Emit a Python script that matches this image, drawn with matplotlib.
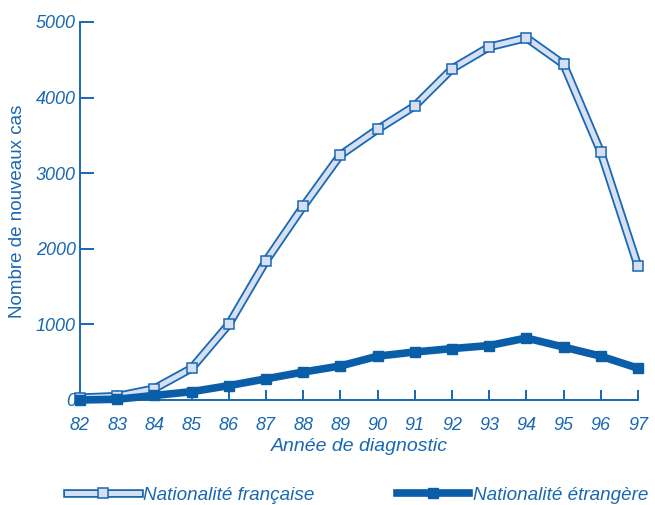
import matplotlib
matplotlib.use("Agg")
import matplotlib.pyplot as plt
import matplotlib.patheffects as pe

years = [82, 83, 84, 85, 86, 87, 88, 89, 90, 91, 92, 93, 94, 95, 96, 97]
francaise = [30, 50, 150, 420, 1000, 1840, 2560, 3240, 3580, 3890, 4380, 4670, 4790, 4440, 3280, 1770]
etrangere = [0, 10, 60, 110, 190, 280, 370, 450, 580, 635, 680, 720, 820, 700, 580, 420]
yticks = [0, 1000, 2000, 3000, 4000, 5000]

BLUE = "#1a68b2"
DARK = "#0a5ea8"
LIGHT = "#d6e0f2"

plt.rcParams['font.family'] = ['Liberation Sans', 'DejaVu Sans']

fig = plt.figure(figsize=(6.55, 5.05), dpi=100)
ax = fig.add_axes([80/655, 1-400/505, (638-80)/655, (400-22)/505])

l1, = ax.plot(years, francaise, color=LIGHT, lw=3.6, solid_joinstyle='miter',
              path_effects=[pe.Stroke(linewidth=6.2, foreground=BLUE), pe.Normal()],
              clip_on=False, zorder=3)
m1, = ax.plot(years, francaise, ls='none', marker='s', ms=7, mfc=LIGHT, mec=BLUE,
              mew=1.1, clip_on=False, zorder=4)
l2, = ax.plot(years, etrangere, color=DARK, lw=5.5, clip_on=False, zorder=5)
m2, = ax.plot(years, etrangere, ls='none', marker='s', ms=7, mfc=DARK, mec=DARK,
              clip_on=False, zorder=6)

ax.set_xlim(82, 97)
ax.set_ylim(0, 5000)
ax.set_xticks(years)
ax.set_xticklabels([str(y) for y in years])
ax.set_yticks(yticks)
ax.set_yticklabels([str(v) for v in yticks])

for s in ['top', 'right']:
    ax.spines[s].set_visible(False)
for s in ['left', 'bottom']:
    ax.spines[s].set_color(BLUE)
    ax.spines[s].set_linewidth(1.4)

ax.tick_params(axis='y', direction='in', length=10, width=1.4, color=BLUE,
               labelcolor=BLUE, labelsize=13, pad=3)
ax.tick_params(axis='x', direction='in', length=7, width=1.4, color=BLUE,
               labelcolor=BLUE, labelsize=13, pad=12)
for lab in ax.get_xticklabels() + ax.get_yticklabels():
    lab.set_style('italic')

ax.set_xlabel("Année de diagnostic", color=BLUE, fontsize=14, style='italic', labelpad=3)
ax.set_ylabel("Nombre de nouveaux cas", color=BLUE, fontsize=13.5, labelpad=7)

leg1 = fig.legend([(l1, m1)], ["Nationalité française"], loc='center left',
                  bbox_to_anchor=(67/655, 1-495/505), frameon=False, handlelength=3.8,
                  borderpad=0, borderaxespad=0, handletextpad=0.2,
                  prop={'style': 'italic', 'size': 13.6})
for t in leg1.get_texts():
    t.set_color(BLUE)
leg2 = fig.legend([(l2, m2)], ["Nationalité étrangère"], loc='center left',
                  bbox_to_anchor=(397/655, 1-495/505), frameon=False, handlelength=3.8,
                  borderpad=0, borderaxespad=0, handletextpad=0.2,
                  prop={'style': 'italic', 'size': 13.6})
for t in leg2.get_texts():
    t.set_color(BLUE)

fig.savefig("out.png", dpi=100)
